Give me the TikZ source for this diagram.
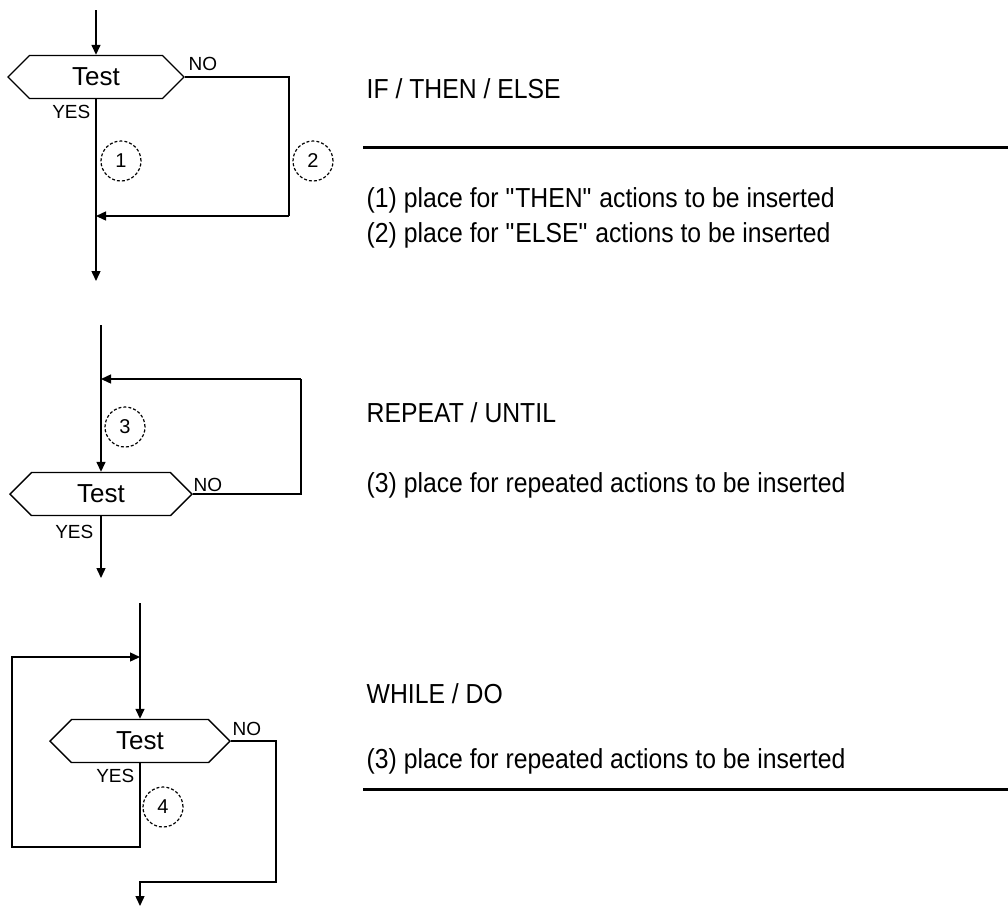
\documentclass[tikz,border=0pt]{standalone}
\usepackage{fontspec}
\setmainfont{Liberation Sans}
\newfontfamily\narrowsans{Liberation Sans}[FakeStretch=0.9]
\usetikzlibrary{arrows.meta,shapes.symbols}
\begin{document}
\begin{tikzpicture}[x=0.5pt,y=-0.5pt,>={Triangle[length=5pt,width=4.5pt]},line width=0.7pt,
	test/.style={draw,signal,signal to=east and west,signal pointer angle=90,minimum height=21.5pt,inner sep=0pt,font=\fontsize{13}{15}\selectfont},
	yn/.style={inner sep=0pt,font=\fontsize{9.5}{11}\selectfont},
	num/.style={draw,circle,dash pattern=on 1.5pt off 1pt,line width=0.6pt,minimum size=20pt,inner sep=0pt,font=\fontsize{10}{12}\selectfont},
	txt/.style={anchor=base west,inner sep=0pt,font=\narrowsans\fontsize{13.75}{16}\selectfont},
	rule/.style={line width=1.5pt}]
	\useasboundingbox (0,0) rectangle (1008,907);
	% IF / THEN / ELSE
	\node[test,minimum width=88pt] (t1) at (96,77) {Test};
	\coordinate (top1) at (96,10); \coordinate (c1) at (289,216);
	\coordinate (j1) at (96,216); \coordinate (end1) at (96,281);
	\draw[->] (top1) -- (t1.north);
	\draw (t1.east) -| (c1);
	\draw[->] (c1) -- (j1);
	\draw[->] (t1.south) -- (end1);
	\node[yn,anchor=base west] (no1) at (188,70) {NO};
	\node[yn,anchor=base east] (yes1) at (91,118) {YES};
	\node[num] (n1) at (121,161) {1};
	\node[num] (n2) at (313,161) {2};
	% REPEAT / UNTIL
	\node[test,minimum width=91pt] (t2) at (101,494) {Test};
	\coordinate (top2) at (101,325); \coordinate (c2) at (301,379);
	\coordinate (j2) at (101,379); \coordinate (end2) at (101,578);
	\draw[->] (top2) -- (t2.north);
	\draw (t2.east) -| (c2);
	\draw[->] (c2) -- (j2);
	\draw[->] (t2.south) -- (end2);
	\node[yn,anchor=base west] (no2) at (193,491) {NO};
	\node[yn,anchor=base east] (yes2) at (94,538) {YES};
	\node[num] (n3) at (125,427) {3};
	% WHILE / DO
	\node[test,minimum width=90pt] (t3) at (140,741) {Test};
	\coordinate (top3) at (140,603); \coordinate (j3) at (140,657);
	\coordinate (b3) at (140,847); \coordinate (lb3) at (12,847); \coordinate (lt3) at (12,657);
	\coordinate (r3) at (276,882); \coordinate (k3) at (140,882); \coordinate (end3) at (140,906);
	\draw[->] (top3) -- (t3.north);
	\draw[->] (t3.south) -- (b3) -- (lb3) -- (lt3) -- (j3);
	\draw[->] (t3.east) -| (r3) -- (k3) -- (end3);
	\node[yn,anchor=base west] (no3) at (232,735) {NO};
	\node[yn,anchor=base east] (yes3) at (135,782) {YES};
	\node[num] (n4) at (163,807) {4};
	% texts
	\node[txt] (h1) at (366,98) {IF / THEN / ELSE};
	\coordinate (ra1) at (363,147); \coordinate (rb1) at (1008,147);
	\draw[rule] (ra1) -- (rb1);
	\node[txt] (d1) at (366,207) {(1) place for \textquotedbl THEN\textquotedbl\ actions to be inserted};
	\node[txt] (d2) at (366,242) {(2) place for \textquotedbl ELSE\textquotedbl\ actions to be inserted};
	\node[txt] (h2) at (366,422) {REPEAT / UNTIL};
	\node[txt] (d3) at (366,492) {(3) place for repeated actions to be inserted};
	\node[txt] (h3) at (366,703) {WHILE / DO};
	\node[txt] (d4) at (366,768) {(3) place for repeated actions to be inserted};
	\coordinate (ra2) at (363,789); \coordinate (rb2) at (1008,789);
	\draw[rule] (ra2) -- (rb2);
\end{tikzpicture}
\end{document}
